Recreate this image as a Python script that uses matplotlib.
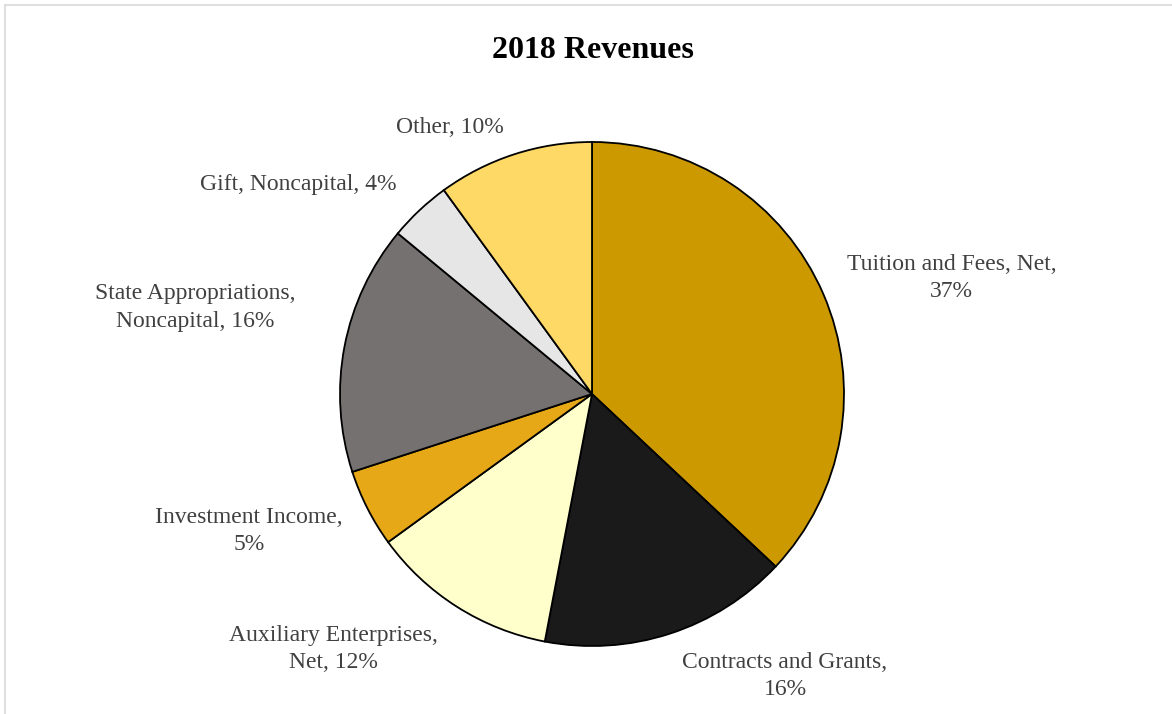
import numpy as np
import matplotlib.pyplot as plt

plt.rcParams['font.family'] = ['Liberation Serif', 'DejaVu Serif']

# data
labels = ['Tuition and Fees, Net,\n37%', 'Contracts and Grants,\n16%',
          'Auxiliary Enterprises,\nNet, 12%', 'Investment Income,\n5%',
          'State Appropriations,\nNoncapital, 16%', 'Gift, Noncapital, 4%',
          'Other, 10%']
shares = [37, 16, 12, 5, 16, 4, 10]
colors = ['#CC9900', '#1A1A1A', '#FFFFCC', '#E6A817', '#767171', '#E7E6E6', '#FFD966']

# label placement (angle in degrees, distance in radius units)
lab_ang = [17.9, -55.6, -135.4, -158.2, 167.7, 144.5, 118.1]
lab_dist = [1.50, 1.356, 1.44, 1.465, 1.61, 1.43, 1.20]

fig = plt.figure(figsize=(11.72, 7.14), dpi=100)
W, H = 1172, 714
cx, cy, r = 592, 394, 252
ax = fig.add_axes([(cx - r) / W, (H - cy - r) / H, 2 * r / W, 2 * r / H])
ax.pie(shares, colors=colors, startangle=90, counterclock=False, radius=1,
       wedgeprops=dict(edgecolor='black', linewidth=1.3))
ax.set_xlim(-1, 1)
ax.set_ylim(-1, 1)
ax.set_aspect('auto')
ax.axis('off')

for lab, a, d in zip(labels, lab_ang, lab_dist):
    t = np.deg2rad(a)
    ax.text(d * np.cos(t), d * np.sin(t), lab, ha='center', va='center',
            fontsize=17, color='#404040', linespacing=1.39, clip_on=False)

fig.text(593 / W, 1 - 50 / H, '2018 Revenues', ha='center', va='center',
         fontsize=23, fontweight='bold', color='black')

# chart frame (only top and left edges are visible)
fig.add_artist(plt.Line2D([5 / W, 5 / W], [0, 1 - 5 / H], color='#D9D9D9', lw=1.2))
fig.add_artist(plt.Line2D([5 / W, 1], [1 - 5 / H, 1 - 5 / H], color='#D9D9D9', lw=1.2))

fig.savefig('out.png', dpi=100)
